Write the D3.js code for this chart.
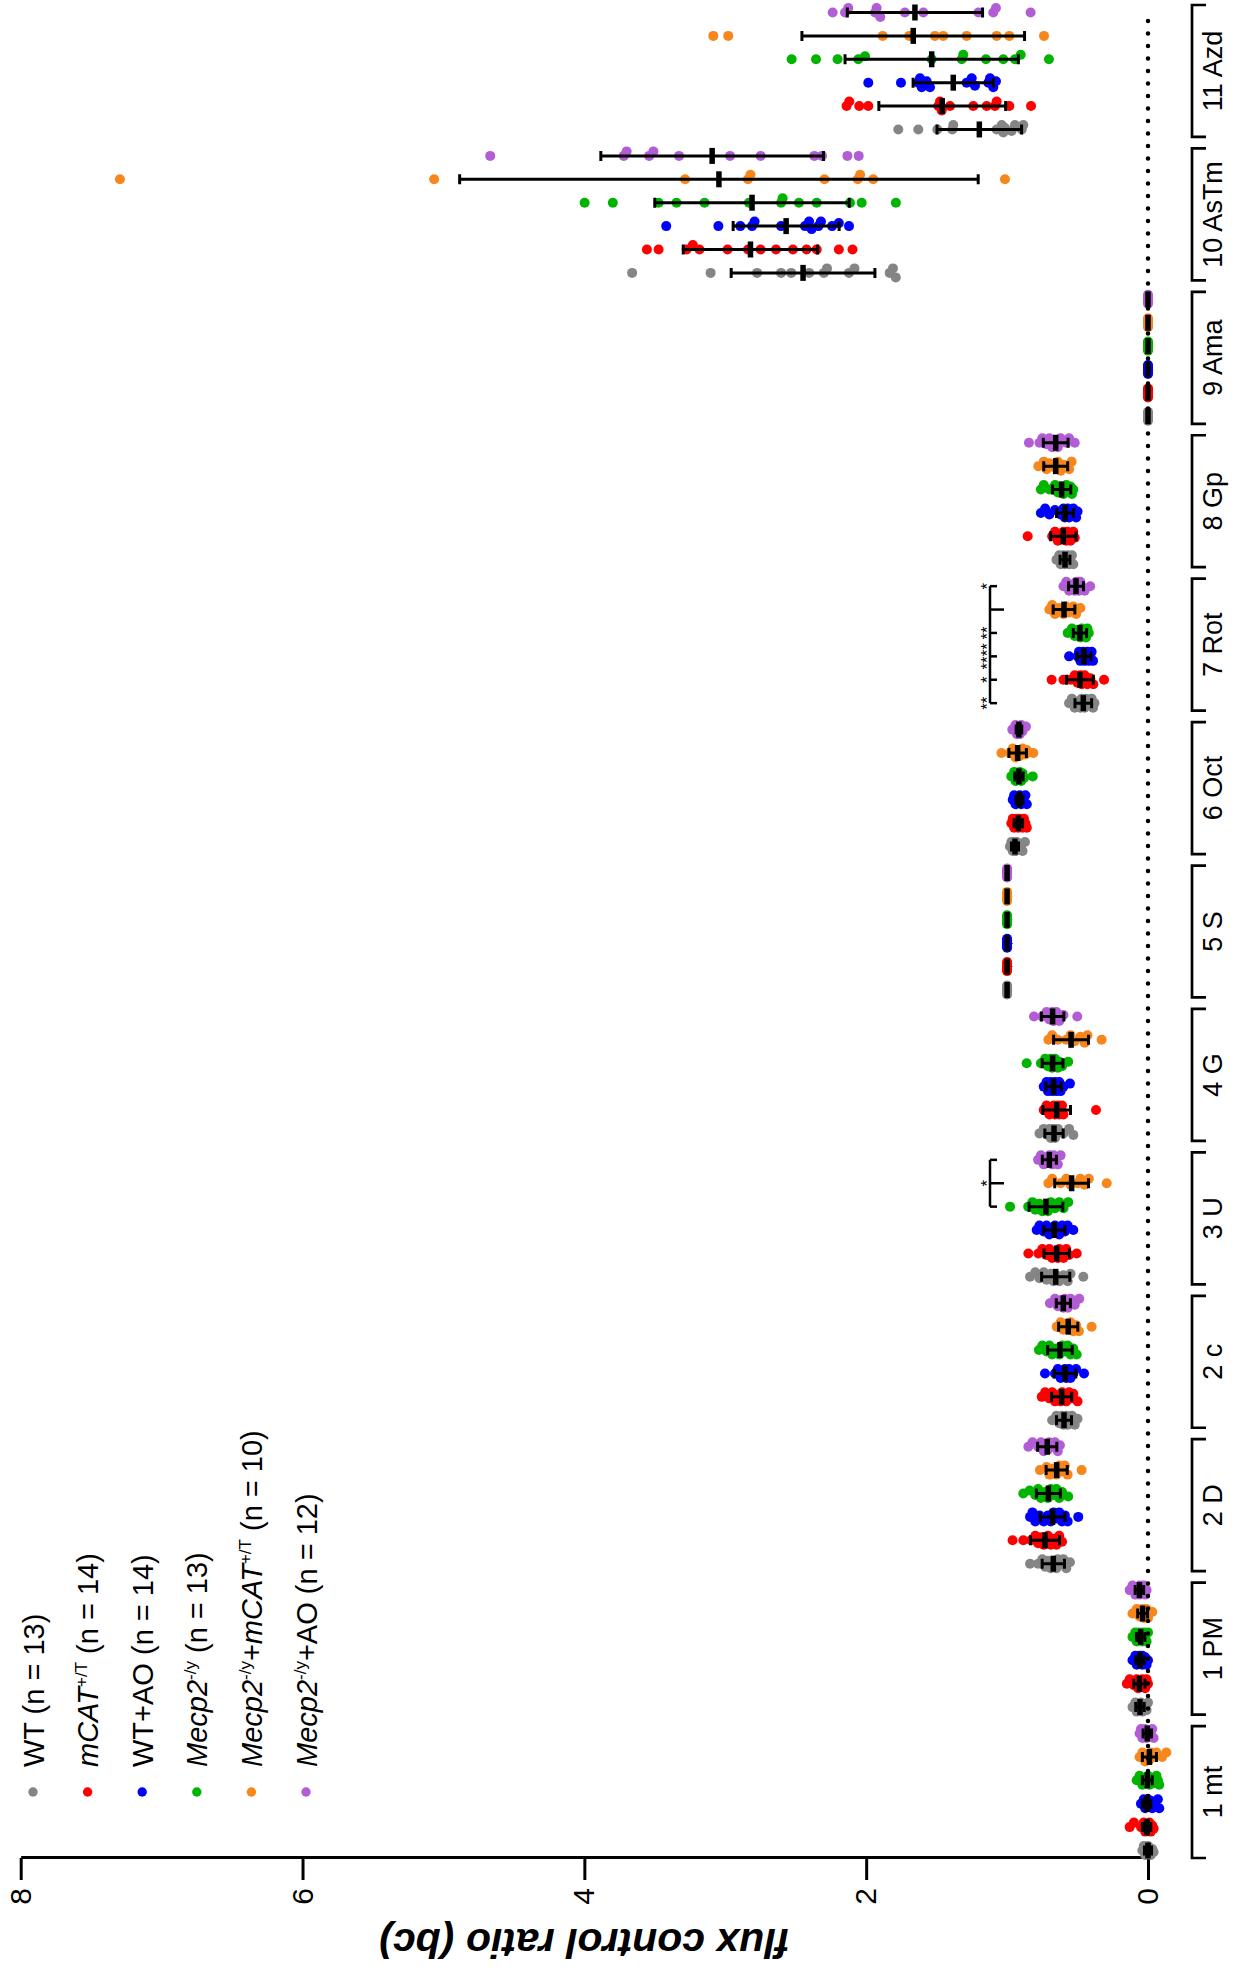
<!DOCTYPE html>
<html>
<head>
<meta charset="utf-8">
<script src="https://cdn.jsdelivr.net/npm/d3@7"></script>
<style>
  body { margin: 0; background: #fff; }
  svg text { font-family: "Liberation Sans", Arial, sans-serif; fill: #000; }
</style>
</head>
<body>
<svg id="chart" width="1239" height="1971"></svg>
<script>
// categories along the bracket axis, groups inside each category
var categories = ["1 mt", "1 PM", "2 D", "2 c", "3 U", "4 G", "5 S", "6 Oct", "7 Rot", "8 Gp", "9 Ama", "10 AsTm", "11 Azd"];
var groups = ["WT", "mCAT", "WT+AO", "Mecp2", "Mecp2+mCAT", "Mecp2+AO"];
var groupColors = ["#858585", "#ff0000", "#0000ff", "#00b400", "#f7861d", "#b25dd5"];
var groupN = [13, 14, 14, 13, 10, 12];
var tickValues = [0, 2, 4, 6, 8];

// mean and SD, one row per category (WT, mCAT, WT+AO, Mecp2, Mecp2+mCAT, Mecp2+AO)
var means = [
  [0.00, 0.01, 0.01, 0.005, -0.01, 0.005],
  [0.057, 0.061, 0.057, 0.052, 0.038, 0.061],
  [0.672, 0.731, 0.677, 0.707, 0.648, 0.715],
  [0.596, 0.613, 0.589, 0.625, 0.566, 0.601],
  [0.655, 0.648, 0.665, 0.724, 0.542, 0.700],
  [0.667, 0.648, 0.670, 0.677, 0.546, 0.677],
  [1.00, 1.00, 1.00, 1.00, 1.00, 1.00],
  [0.944, 0.920, 0.913, 0.916, 0.925, 0.916],
  [0.459, 0.483, 0.454, 0.483, 0.596, 0.511],
  [0.589, 0.601, 0.589, 0.613, 0.655, 0.655],
  [0.00, 0.00, 0.00, 0.00, 0.00, 0.00],
  [2.448, 2.821, 2.568, 2.810, 3.045, 3.093],
  [1.197, 1.460, 1.382, 1.535, 1.666, 1.654]
];
var sds = [
  [0.025, 0.03, 0.03, 0.035, 0.05, 0.03],
  [0.03, 0.04, 0.03, 0.03, 0.035, 0.03],
  [0.079, 0.103, 0.088, 0.085, 0.075, 0.068],
  [0.053, 0.071, 0.077, 0.087, 0.068, 0.05],
  [0.10, 0.09, 0.075, 0.12, 0.12, 0.05],
  [0.065, 0.098, 0.055, 0.074, 0.124, 0.08],
  [0.004, 0.004, 0.004, 0.004, 0.004, 0.004],
  [0.025, 0.03, 0.025, 0.03, 0.062, 0.02],
  [0.059, 0.095, 0.05, 0.047, 0.077, 0.053],
  [0.035, 0.09, 0.06, 0.065, 0.085, 0.088],
  [0.003, 0.003, 0.003, 0.003, 0.003, 0.003],
  [0.51, 0.477, 0.376, 0.69, 1.84, 0.79],
  [0.30, 0.45, 0.285, 0.615, 0.79, 0.48]
];

// individual animals, per category then per group
var points = [
  [ // 1 mt
    [0.04,0.03,0.02,0.01,0.01,0.00,0.00,0.00,-0.01,-0.01,-0.02,-0.03,-0.04],
    [0.13,0.10,0.05,0.03,0.02,0.01,0.01,0.00,0.00,-0.01,-0.01,-0.02,-0.03,-0.04],
    [0.05,0.03,0.02,0.01,0.01,0.00,0.00,0.00,-0.01,-0.02,-0.03,-0.05,-0.07,-0.08],
    [0.08,0.06,0.04,0.02,0.01,0.00,0.00,-0.01,-0.02,-0.04,-0.06,-0.07,-0.08],
    [0.06,0.04,0.02,0.00,-0.01,-0.02,-0.04,-0.06,-0.10,-0.13],
    [0.06,0.05,0.04,0.03,0.02,0.01,0.00,0.00,-0.01,-0.02,-0.03,-0.04]
  ],
  [ // 1 PM
    [0.11,0.09,0.08,0.07,0.07,0.06,0.06,0.05,0.05,0.04,0.03,0.01,0.00],
    [0.15,0.13,0.10,0.08,0.07,0.06,0.06,0.05,0.05,0.04,0.03,0.02,0.01,0.00],
    [0.11,0.09,0.08,0.07,0.06,0.06,0.05,0.05,0.04,0.04,0.03,0.02,0.01,0.00],
    [0.11,0.09,0.08,0.07,0.06,0.06,0.05,0.05,0.04,0.03,0.02,0.01,0.00],
    [0.11,0.08,0.06,0.05,0.04,0.03,0.02,0.01,0.00,-0.03],
    [0.13,0.11,0.09,0.08,0.07,0.06,0.06,0.05,0.04,0.03,0.02,0.01]
  ],
  [ // 2 D
    [0.837,0.78,0.75,0.73,0.71,0.69,0.67,0.65,0.64,0.62,0.60,0.58,0.554],
    [0.961,0.885,0.83,0.80,0.78,0.76,0.74,0.73,0.71,0.69,0.67,0.65,0.63,0.61],
    [0.837,0.82,0.80,0.77,0.74,0.71,0.69,0.67,0.65,0.63,0.61,0.59,0.57,0.495],
    [0.885,0.84,0.80,0.78,0.76,0.73,0.71,0.69,0.67,0.65,0.63,0.61,0.566],
    [0.767,0.72,0.70,0.67,0.65,0.63,0.61,0.59,0.57,0.471],
    [0.849,0.82,0.78,0.76,0.74,0.72,0.71,0.70,0.68,0.66,0.64,0.625]
  ],
  [ // 2 c
    [0.68,0.65,0.63,0.62,0.61,0.60,0.59,0.58,0.57,0.56,0.54,0.52,0.50],
    [0.754,0.73,0.70,0.68,0.66,0.64,0.62,0.61,0.60,0.58,0.56,0.54,0.53,0.50],
    [0.731,0.66,0.64,0.62,0.61,0.60,0.59,0.58,0.57,0.56,0.55,0.53,0.51,0.454],
    [0.774,0.75,0.72,0.70,0.68,0.65,0.63,0.61,0.59,0.57,0.55,0.53,0.506],
    [0.648,0.62,0.60,0.58,0.57,0.55,0.53,0.51,0.49,0.40],
    [0.696,0.66,0.64,0.62,0.61,0.60,0.59,0.58,0.57,0.55,0.52,0.488]
  ],
  [ // 3 U
    [0.837,0.80,0.77,0.74,0.72,0.69,0.67,0.65,0.63,0.60,0.57,0.55,0.459],
    [0.849,0.778,0.75,0.72,0.70,0.68,0.66,0.64,0.63,0.62,0.60,0.58,0.56,0.506],
    [0.79,0.77,0.74,0.72,0.70,0.68,0.67,0.66,0.65,0.63,0.61,0.59,0.57,0.53],
    [0.979,0.85,0.82,0.80,0.77,0.75,0.73,0.71,0.69,0.66,0.63,0.60,0.566],
    [0.707,0.68,0.62,0.58,0.55,0.50,0.48,0.45,0.42,0.293],
    [0.78,0.76,0.74,0.72,0.71,0.70,0.69,0.68,0.67,0.66,0.64,0.62]
  ],
  [ // 4 G
    [0.77,0.74,0.71,0.70,0.69,0.68,0.67,0.66,0.65,0.64,0.60,0.56,0.53],
    [0.74,0.72,0.70,0.69,0.68,0.67,0.66,0.65,0.64,0.63,0.62,0.61,0.60,0.369],
    [0.74,0.72,0.71,0.70,0.69,0.68,0.67,0.66,0.65,0.64,0.63,0.62,0.60,0.554],
    [0.861,0.76,0.73,0.71,0.70,0.69,0.68,0.67,0.66,0.64,0.63,0.61,0.566],
    [0.707,0.68,0.64,0.58,0.55,0.52,0.48,0.45,0.43,0.329],
    [0.809,0.75,0.72,0.70,0.69,0.68,0.67,0.66,0.65,0.63,0.60,0.502]
  ],
  [ // 5 S
    [1,1,1,1,1,1,1,1,1,1,1,1,1],
    [1,1,1,1,1,1,1,1,1,1,1,1,1,1],
    [1,1,1,1,1,1,1,1,1,1,1,1,1,1],
    [1,1,1,1,1,1,1,1,1,1,1,1,1],
    [1,1,1,1,1,1,1,1,1,1],
    [1,1,1,1,1,1,1,1,1,1,1,1]
  ],
  [ // 6 Oct
    [0.98,0.97,0.96,0.96,0.95,0.95,0.94,0.94,0.93,0.93,0.90,0.89,0.873],
    [0.97,0.96,0.95,0.94,0.93,0.92,0.92,0.91,0.91,0.90,0.89,0.88,0.87,0.86],
    [0.96,0.95,0.94,0.93,0.93,0.92,0.92,0.91,0.91,0.90,0.89,0.88,0.87,0.86],
    [0.97,0.95,0.94,0.93,0.93,0.92,0.92,0.91,0.90,0.90,0.89,0.88,0.818],
    [1.04,0.98,0.96,0.94,0.92,0.91,0.89,0.87,0.86,0.814],
    [0.963,0.94,0.93,0.93,0.92,0.92,0.91,0.91,0.90,0.90,0.89,0.866]
  ],
  [ // 7 Rot
    [0.56,0.54,0.52,0.50,0.48,0.47,0.46,0.45,0.44,0.42,0.40,0.39,0.38],
    [0.684,0.60,0.55,0.52,0.50,0.49,0.48,0.47,0.46,0.45,0.43,0.41,0.388,0.312],
    [0.56,0.50,0.49,0.48,0.47,0.46,0.45,0.45,0.44,0.43,0.42,0.41,0.40,0.39],
    [0.57,0.54,0.52,0.50,0.49,0.48,0.48,0.47,0.46,0.45,0.44,0.43,0.42],
    [0.70,0.68,0.66,0.63,0.60,0.58,0.56,0.53,0.51,0.48],
    [0.60,0.58,0.56,0.54,0.52,0.51,0.50,0.49,0.48,0.47,0.45,0.41]
  ],
  [ // 8 Gp
    [0.65,0.63,0.62,0.61,0.60,0.59,0.59,0.58,0.57,0.56,0.55,0.54,0.53],
    [0.854,0.68,0.66,0.64,0.62,0.61,0.60,0.59,0.58,0.57,0.56,0.55,0.53,0.52],
    [0.76,0.73,0.70,0.66,0.62,0.60,0.59,0.58,0.57,0.56,0.55,0.53,0.51,0.50],
    [0.76,0.74,0.70,0.66,0.64,0.62,0.61,0.60,0.58,0.57,0.55,0.54,0.53],
    [0.778,0.74,0.72,0.70,0.66,0.64,0.62,0.60,0.56,0.542],
    [0.845,0.77,0.75,0.72,0.70,0.68,0.66,0.64,0.62,0.58,0.56,0.52]
  ],
  [ // 9 Ama
    [0,0,0,0,0,0,0,0,0,0,0,0,0],
    [0,0,0,0,0,0,0,0,0,0,0,0,0,0],
    [0,0,0,0,0,0,0,0,0,0,0,0,0,0],
    [0,0,0,0,0,0,0,0,0,0,0,0,0],
    [0,0,0,0,0,0,0,0,0,0],
    [0,0,0,0,0,0,0,0,0,0,0,0]
  ],
  [ // 10 AsTm
    [3.661,3.104,2.774,2.604,2.532,2.405,2.30,2.278,2.122,2.083,1.833,1.81,1.79],
    [3.556,3.473,3.274,3.230,3.183,2.984,2.839,2.749,2.640,2.520,2.423,2.351,2.194,2.097],
    [3.419,3.049,2.893,2.810,2.792,2.604,2.434,2.405,2.387,2.339,2.321,2.242,2.194,2.122],
    [3.998,3.798,3.473,3.346,3.147,2.832,2.604,2.593,2.477,2.351,2.115,2.032,1.789],
    [7.296,5.066,3.285,2.839,2.821,2.296,2.060,2.043,1.95,1.015],
    [4.668,3.72,3.70,3.54,3.51,3.328,2.966,2.749,2.368,2.314,2.133,2.053]
  ],
  [ // 11 Azd
    [1.772,1.630,1.495,1.389,1.382,1.074,1.038,1.027,1.015,0.968,0.944,0.896,0.885],
    [2.139,2.120,2.049,1.985,1.488,1.476,1.464,1.405,1.240,1.145,1.086,1.074,0.984,0.830],
    [1.985,1.753,1.630,1.618,1.606,1.571,1.547,1.287,1.251,1.228,1.133,1.121,1.098,1.079],
    [2.529,2.356,2.203,2.056,2.008,1.535,1.322,1.311,1.150,1.027,0.944,0.903,0.703],
    [3.085,2.979,1.883,1.694,1.512,1.453,1.287,1.074,0.984,0.738],
    [2.238,2.150,2.127,1.937,1.926,1.90,1.725,1.594,1.204,1.098,1.079,0.833]
  ]
];

// significance brackets: which groups get a tick, which is the reference, stars per group
var sigBrackets = [
  { cat: "7 Rot", ticks: [0, 1, 2, 3, 4, 5], ref: 4, stars: ["**", "*", "****", "**", "", "*"] },
  { cat: "3 U", ticks: [3, 4, 5], ref: 4, stars: ["", "", "", "", "*", ""] }
];

// legend pieces: 0 normal, 1 italic, 2 superscript
var legendLabels = [
  [["WT", 0], [" (n = " + groupN[0] + ")", 0]],
  [["mCAT", 1], ["+/T", 2], [" (n = " + groupN[1] + ")", 0]],
  [["WT+AO", 0], [" (n = " + groupN[2] + ")", 0]],
  [["Mecp2", 1], ["-/y", 2], [" (n = " + groupN[3] + ")", 0]],
  [["Mecp2", 1], ["-/y", 2], ["+", 0], ["mCAT", 1], ["+/T", 2], [" (n = " + groupN[4] + ")", 0]],
  [["Mecp2", 1], ["-/y", 2], ["+AO", 0], [" (n = " + groupN[5] + ")", 0]]
];

var W = 1239, H = 1971;
var svg = d3.select("#chart");
// the figure is drawn upright and then turned a quarter turn to the left
var g = svg.append("g").attr("transform", "translate(0," + H + ") rotate(-90)");

var x = d3.scaleBand().domain(categories).range([113, 1966]).paddingInner(0.08).paddingOuter(0);
var xg = d3.scalePoint().domain(groups).range([0, x.bandwidth()]).padding(0.32);
var y = d3.scaleLinear().domain([0, 8]).range([1148, 20.7]);

function cx(ci, gi) { return x(categories[ci]) + xg(groups[gi]); }

// value axis
var yAxis = d3.axisLeft(y).tickValues(tickValues).tickSize(22).tickSizeOuter(0).tickPadding(8).tickFormat(d3.format("d"));
var ax = g.append("g").attr("transform", "translate(113,0)").call(yAxis);
ax.select(".domain").attr("stroke-width", 3).attr("stroke", "#000");
ax.selectAll(".tick line").attr("stroke-width", 3).attr("stroke", "#000");
ax.selectAll(".tick text").attr("font-size", 30).attr("font-family", null);

g.append("text")
  .attr("transform", "translate(42," + ((y(0) + y(8)) / 2) + ") rotate(-90)")
  .attr("text-anchor", "middle")
  .attr("font-size", 41).attr("font-weight", "bold").attr("font-style", "italic")
  .text("flux control ratio (bc)");

// category brackets
var cat = g.append("g").selectAll("g").data(categories).join("g");
cat.append("path")
  .attr("d", function(d) { var a = x(d), b = x(d) + x.bandwidth(); return "M" + a + ",1206V1192H" + b + "V1206"; })
  .attr("fill", "none").attr("stroke", "#000").attr("stroke-width", 2.7);
cat.append("text")
  .attr("x", function(d) { return x(d) + x.bandwidth() / 2; })
  .attr("y", 1221.5)
  .attr("text-anchor", "middle").attr("font-size", 27)
  .text(function(d) { return d; });

// little beeswarm so the dots do not sit all on one line
function swarm(vals, c) {
  var pts = vals.map(function(v) { return { v: v, y: y(v) }; }).sort(function(a, b) { return a.y - b.y; });
  var offs = [0, 1.5, -1.5, 3, -3, 4.5, -4.5];
  var placed = [];
  pts.forEach(function(p) {
    var best = 0, bestD = -1;
    for (var k = 0; k < offs.length; k++) {
      var o = offs[k], d = Infinity;
      placed.forEach(function(q) { var dd = Math.hypot(q.dx - o, q.y - p.y); if (dd < d) d = dd; });
      if (d >= 7) { best = o; break; }
      if (d > bestD) { bestD = d; best = o; }
    }
    p.dx = best;
    p.x = c + best;
    placed.push(p);
  });
  return pts;
}

var dots = g.append("g");
categories.forEach(function(c, ci) {
  groups.forEach(function(gr, gi) {
    dots.selectAll(null).data(swarm(points[ci][gi], cx(ci, gi))).join("circle")
      .attr("cx", function(d) { return d.x; })
      .attr("cy", function(d) { return d.y; })
      .attr("r", 5)
      .attr("fill", groupColors[gi]);
  });
});

// dotted zero line
g.append("line")
  .attr("x1", 125).attr("x2", 1962).attr("y1", y(0)).attr("y2", y(0))
  .attr("stroke", "#000").attr("stroke-width", 4.5)
  .attr("stroke-dasharray", "0,12.5").attr("stroke-linecap", "round");

// mean and SD
var bars = g.append("g").attr("stroke", "#000").attr("fill", "none");
categories.forEach(function(c, ci) {
  groups.forEach(function(gr, gi) {
    var m = means[ci][gi], s = sds[ci][gi], px = cx(ci, gi);
    var lo = y(m - s), hi = y(m + s);
    bars.append("path")
      .attr("d", "M" + px + "," + lo + "V" + hi + "M" + (px - 5) + "," + lo + "H" + (px + 5) + "M" + (px - 5) + "," + hi + "H" + (px + 5))
      .attr("stroke-width", 3);
    bars.append("line")
      .attr("x1", px - 8).attr("x2", px + 8).attr("y1", y(m)).attr("y2", y(m))
      .attr("stroke-width", 5.5);
  });
});

// significance
sigBrackets.forEach(function(b) {
  var ci = categories.indexOf(b.cat);
  var xs = b.ticks.map(function(k) { return cx(ci, k); });
  var sg = g.append("g");
  sg.append("line")
    .attr("x1", d3.min(xs)).attr("x2", d3.max(xs)).attr("y1", 990).attr("y2", 990)
    .attr("stroke", "#000").attr("stroke-width", 2.5);
  b.ticks.forEach(function(k) {
    sg.append("line")
      .attr("x1", cx(ci, k)).attr("x2", cx(ci, k)).attr("y1", 990).attr("y2", k === b.ref ? 1004 : 997)
      .attr("stroke", "#000").attr("stroke-width", 2.5);
    if (b.stars[k]) {
      sg.append("text")
        .attr("x", cx(ci, k)).attr("y", 993)
        .attr("text-anchor", "middle").attr("font-size", 17)
        .text(b.stars[k]);
    }
  });
});

// legend
var leg = g.append("g");
legendLabels.forEach(function(parts, i) {
  var ry = 33 + i * 54.6;
  leg.append("circle").attr("cx", 179).attr("cy", ry).attr("r", 4.7).attr("fill", groupColors[i]);
  var t = leg.append("text").attr("x", 204).attr("y", ry + 10.5).attr("font-size", 29);
  var up = 0;
  parts.forEach(function(p) {
    var s = t.append("tspan").text(p[0]);
    if (p[1] === 1) s.attr("font-style", "italic");
    if (p[1] === 2) { s.attr("font-size", 17).attr("dy", -11); up = 11; }
    else if (up) { s.attr("dy", up); up = 0; }
  });
});
</script>
</body>
</html>
